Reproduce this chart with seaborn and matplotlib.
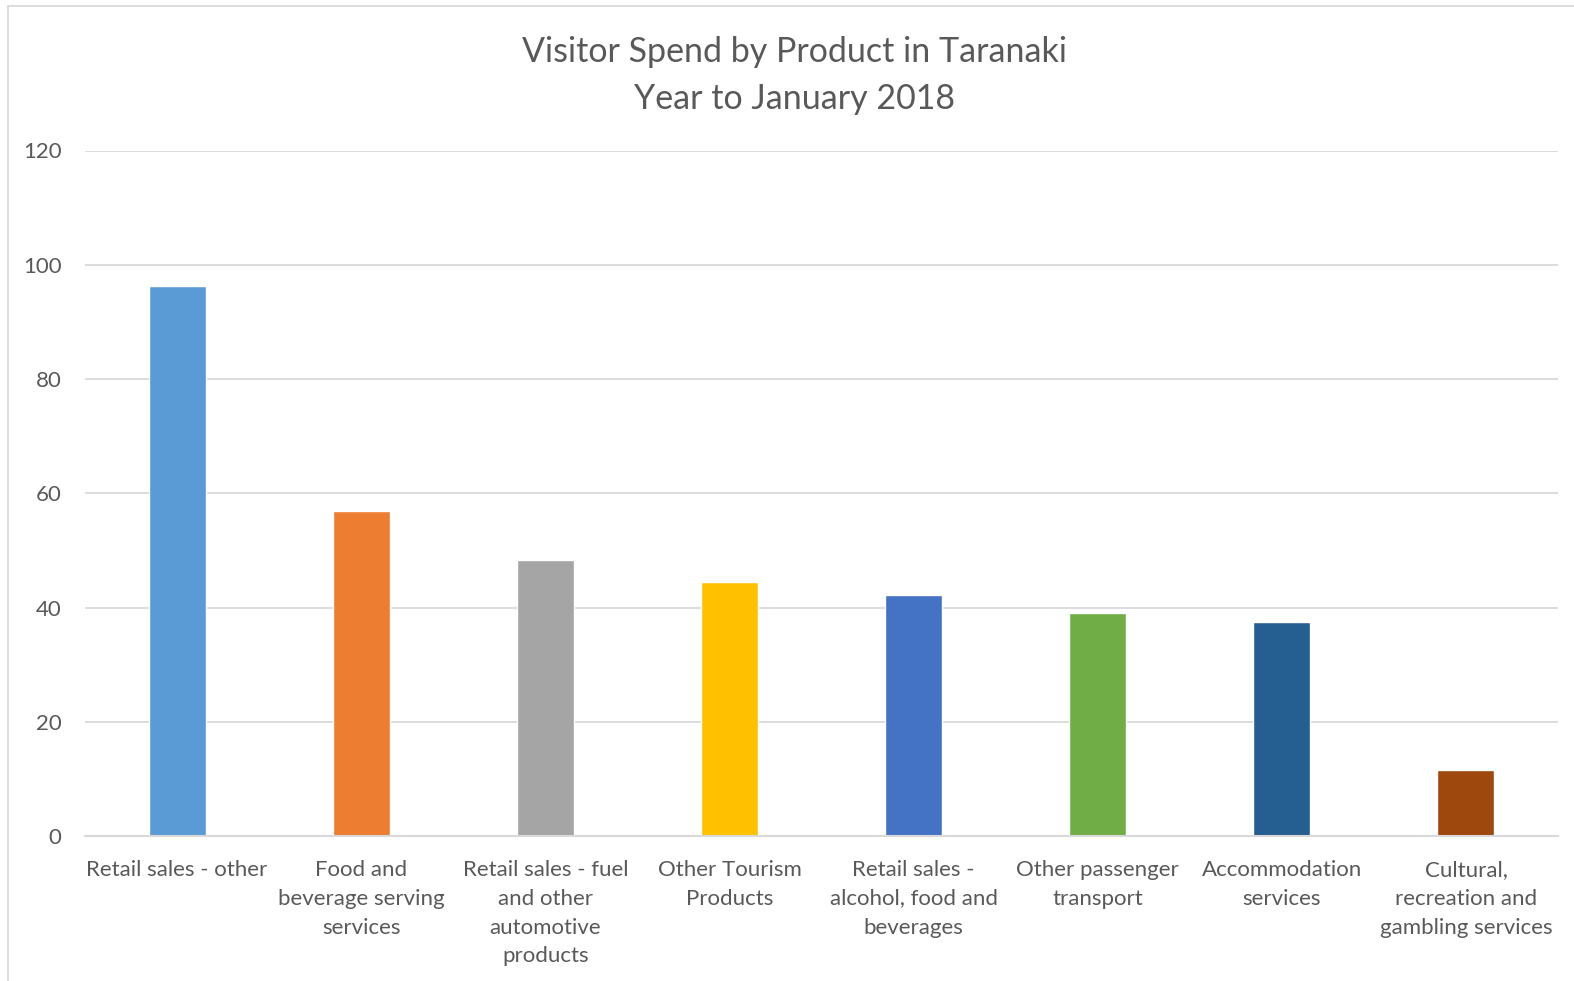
import matplotlib
matplotlib.use("Agg")
import matplotlib.pyplot as plt
import pandas as pd
import seaborn as sns
from matplotlib.patches import Rectangle

# values
products = ["Retail sales - other",
            "Food and\nbeverage serving\nservices",
            "Retail sales - fuel\nand other\nautomotive\nproducts",
            "Other Tourism\nProducts",
            "Retail sales -\nalcohol, food and\nbeverages",
            "Other passenger\ntransport",
            "Accommodation\nservices",
            "Cultural,\nrecreation and\ngambling services"]
spend = [96.3, 56.9, 48.3, 44.5, 42.2, 39.0, 37.4, 11.6]
colors = ["#5B9BD5", "#ED7D31", "#A5A5A5", "#FFC000",
          "#4472C4", "#70AD47", "#255E91", "#9E480E"]
yticks = [0, 20, 40, 60, 80, 100, 120]

df = pd.DataFrame({"product": products, "spend": spend})

sns.set_theme(style="white")
plt.rcParams['font.family'] = ['Lato', 'DejaVu Sans']
txt = "#595959"

fig = plt.figure(figsize=(15.74, 9.81), dpi=100)
ax = fig.add_axes([85/1574, 1-836/981, (1558-85)/1574, (836-150.5)/981])

sns.barplot(data=df, x="product", y="spend", hue="product", palette=colors,
            legend=False, width=0.31, saturation=1, ax=ax)

ax.set_ylim(0, 120)
ax.set_xlim(-0.5, len(products)-0.5)
ax.set_yticks(yticks)
ax.yaxis.grid(True, color="#D9D9D9", linewidth=1.3)
ax.set_axisbelow(True)
for s in ["top", "right", "left"]:
    ax.spines[s].set_visible(False)
ax.spines["bottom"].set_color("#D9D9D9")
ax.spines["bottom"].set_linewidth(1.5)
ax.tick_params(axis="both", length=0, colors=txt, labelsize=16)
ax.tick_params(axis="y", pad=17)
ax.tick_params(axis="x", pad=17)
for lab in ax.get_xticklabels():
    lab.set_linespacing(1.56)
ax.set_xlabel("")
ax.set_ylabel("")

fig.text(0.505, 1-75.5/981, "Visitor Spend by Product in Taranaki\nYear to January 2018",
         ha="center", va="center", fontsize=24.5, color=txt, linespacing=1.6)

# chart frame
fig.patches.append(Rectangle((8/1574, -0.05), 1.2, 1-6/981+0.05,
                             transform=fig.transFigure, fill=False,
                             edgecolor="#D9D9D9", linewidth=1.3))

fig.savefig("out.png", dpi=100, facecolor="white")
